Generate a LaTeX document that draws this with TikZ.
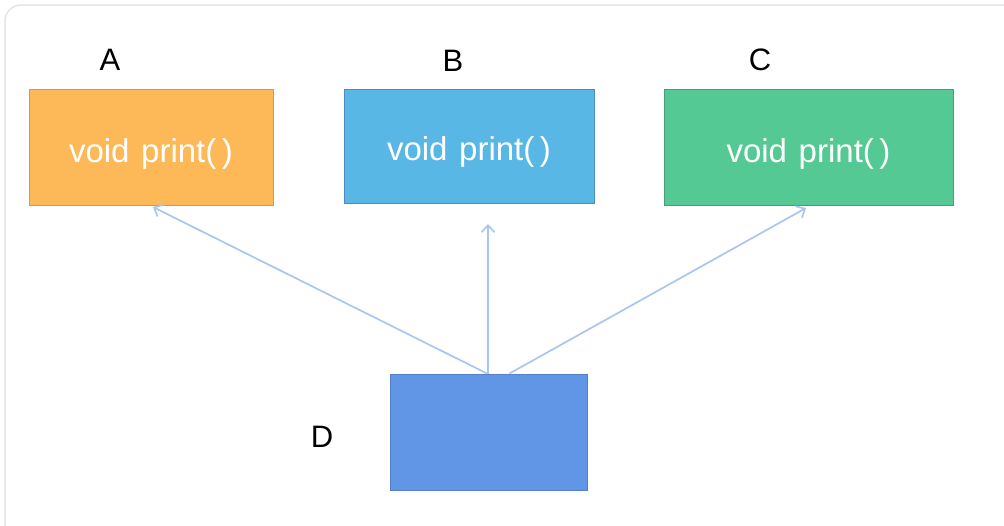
\documentclass[tikz,border=0pt]{standalone}
\usepackage{fontspec}
\setmainfont{Liberation Sans}
\usetikzlibrary{arrows.meta}
\definecolor{frameC}{HTML}{E6E6E6}
\definecolor{orangeF}{HTML}{FDB858}
\definecolor{orangeD}{HTML}{D29A50}
\definecolor{cyanF}{HTML}{59B7E6}
\definecolor{cyanD}{HTML}{4A8CBC}
\definecolor{greenF}{HTML}{55C993}
\definecolor{greenD}{HTML}{4A9D74}
\definecolor{blueF}{HTML}{6096E5}
\definecolor{blueD}{HTML}{5580C8}
\definecolor{linkC}{HTML}{A9C5F1}
% method signature, baseline set a fixed distance below the box centre
\newcommand{\printsig}[1]{\smash{\raisebox{-#1}{\makebox[0pt]{void\hspace{2.5pt} print(\,)}}}}
\begin{document}
\begin{tikzpicture}[x=1pt,y=-1pt,
  classbox/.style={draw, line width=1pt, inner sep=0pt, text=white,
    font=\fontsize{33}{36}\selectfont},
  letter/.style={font=\fontsize{31}{34}\selectfont, text=black},
  link/.style={draw=linkC, line width=1.7pt,
    -{Straight Barb[length=7pt,width=13pt,line width=1.7pt]}}]
  \useasboundingbox (0,0) rectangle (1004,525);
  % outer panel
  \draw[frameC, line width=1.5pt, rounded corners=16pt] (5,5) rectangle (1030,545);
  % class boxes
  \node[classbox, fill=orangeF, draw=orangeD, minimum width=244pt, minimum height=116pt] (A) at (151,147) {\printsig{15pt}};
  \node[classbox, fill=cyanF, draw=cyanD, minimum width=250pt, minimum height=114pt] (B) at (469,146) {\printsig{14pt}};
  \node[classbox, fill=greenF, draw=greenD, minimum width=289pt, minimum height=116pt] (C) at (808.5,147) {\printsig{15pt}};
  \node[classbox, fill=blueF, draw=blueD, minimum width=197pt, minimum height=116pt] (D) at (488.5,432) {};
  % labels
  \node[letter] (la) at (110,60) {A};
  \node[letter] (lb) at (453,61) {B};
  \node[letter] (lc) at (760,60) {C};
  \node[letter] (ld) at (322,437) {D};
  % inheritance links
  \coordinate (tA) at (153,207);
  \coordinate (tB) at (488,224);
  \coordinate (tC) at (806,208);
  \draw[link] ([xshift=-1.5pt]D.north) -- (tA);
  \draw[link] ([xshift=-0.5pt]D.north) -- (tB);
  \draw[link] ([xshift=21pt]D.north) -- (tC);
\end{tikzpicture}
\end{document}
